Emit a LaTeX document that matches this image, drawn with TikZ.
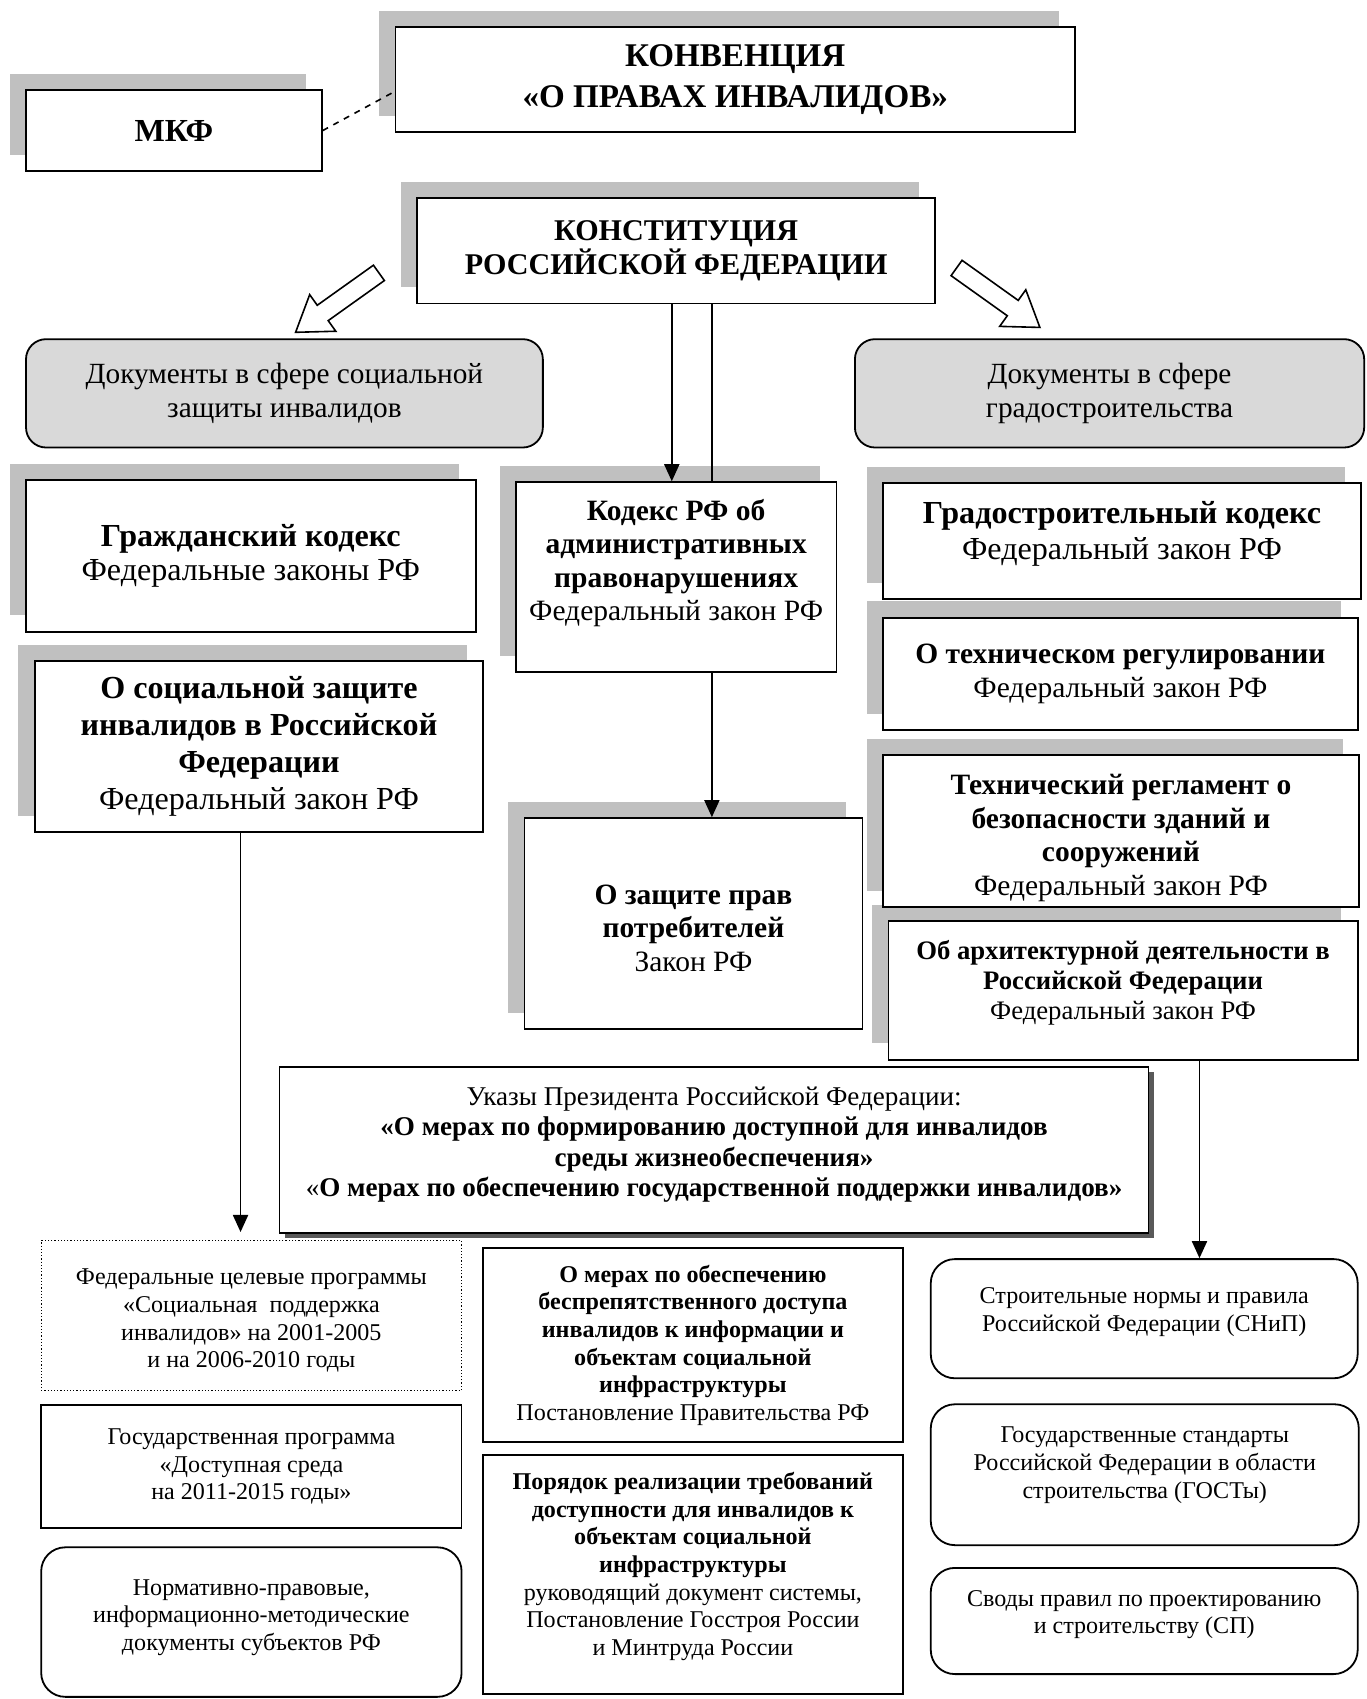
\documentclass[tikz,border=0pt]{standalone}
\usepackage{fontspec}
\setmainfont{Liberation Serif}
\usetikzlibrary{arrows.meta,shapes.arrows,shadows}

\definecolor{fieldgray}{RGB}{217,217,217}
\definecolor{shadowgray}{RGB}{192,192,192}

\tikzset{
  lawbox/.style={draw, line width=0.9pt, fill=white, align=center, inner sep=2pt},
  graysh/.style={drop shadow={shadow xshift=-8.1pt, shadow yshift=8.1pt, fill=shadowgray, opacity=1}},
  fieldbox/.style={lawbox, fill=fieldgray, rounded corners=10pt},
  roundbox/.style={lawbox, rounded corners=12pt},
  wh/.style 2 args={minimum width=#1*0.54pt, minimum height=#2*0.54pt},
  fa/.style={font=\fontsize{16}{17.3}\selectfont},
  fb/.style={font=\fontsize{14.7}{16.7}\selectfont},
  fc/.style={font=\fontsize{12}{13.8}\selectfont},
  hollow/.style={single arrow, draw, line width=0.8pt, fill=white, inner xsep=0pt, inner ysep=4.3pt,
    minimum height=51pt, single arrow head extend=6.5pt, single arrow tip angle=68},
  link/.style={draw, line width=0.9pt},
  arr/.style={link, ->, >={Triangle[length=8.5pt,width=7.5pt]}}
}

\begin{document}
\begin{tikzpicture}[x=0.54pt, y=-0.54pt]
        \useasboundingbox (0,0) rectangle (1261,1568);

        % top level
        \node[lawbox, graysh, wh={627}{97}, font=\fontsize{16.5}{20.5}\selectfont\bfseries] (konv) at (678.5,73.5) {КОНВЕНЦИЯ\\«О ПРАВАХ ИНВАЛИДОВ»};
        \node[lawbox, graysh, wh={273}{75}, font=\fontsize{16}{19}\selectfont\bfseries] (mkf) at (160.5,120.5) {МКФ};
        \node[lawbox, graysh, wh={478}{97}, font=\fontsize{15}{16.7}\selectfont\bfseries] (konst) at (624,231.5) {КОНСТИТУЦИЯ\\РОССИЙСКОЙ ФЕДЕРАЦИИ};

        \node[fieldbox, wh={477}{100}, font=\fontsize{14.6}{17.3}\selectfont] (socfield) at (262.5,363) {Документы в сфере социальной\\защиты инвалидов};
        \node[fieldbox, wh={470}{100}, font=\fontsize{14.6}{17.3}\selectfont] (gradfield) at (1024,363) {Документы в сфере\\градостроительства};

        \node[hollow, rotate=215.5] (toSoc) at (316.5,275.5) {};
        \node[hollow, rotate=-35.5] (toGrad) at (916,271) {};

        % laws
        \node[lawbox, graysh, wh={415}{140}, fa] (grazhd) at (231.5,513) {\textbf{Гражданский кодекс}\\Федеральные законы РФ};
        \node[lawbox, graysh, wh={414}{158}, font=\fontsize{16}{18.4}\selectfont] (soc) at (239,689) {\textbf{О социальной защите}\\\textbf{инвалидов в Российской}\\\textbf{Федерации}\\Федеральный закон РФ};
        \node[lawbox, graysh, wh={296}{175}, fb, text depth=17pt] (kodeks) at (624,532.5) {\textbf{Кодекс РФ об}\\\textbf{административных}\\\textbf{правонарушениях}\\Федеральный закон РФ};
        \node[lawbox, graysh, wh={312}{195}, fb, text height=47.5pt] (zashch) at (640,852.5) {\textbf{О защите прав}\\\textbf{потребителей}\\Закон РФ};
        \node[lawbox, graysh, wh={441}{107}, font=\fontsize{16}{18}\selectfont, text depth=10.5pt] (gradk) at (1035.5,499.5) {\textbf{Градостроительный кодекс}\\Федеральный закон РФ};
        \node[lawbox, graysh, wh={438}{104}, fb] (tehreg) at (1034,622) {\textbf{О техническом регулировании}\\Федеральный закон РФ};
        \node[lawbox, graysh, wh={433}{128}, font=\fontsize{13.3}{15}\selectfont, text depth=10.5pt] (archit) at (1036.5,914) {\textbf{Об архитектурной деятельности в}\\\textbf{Российской Федерации}\\Федеральный закон РФ};
        \node[lawbox, graysh, wh={439}{140}, fb, text height=67pt] (reglam) at (1034.5,767) {\textbf{Технический регламент о}\\\textbf{безопасности зданий и}\\\textbf{сооружений}\\Федеральный закон РФ};

        \node[lawbox, wh={802}{153}, font=\fontsize{13.5}{15.1}\selectfont, text depth=8.5pt,
          drop shadow={shadow xshift=2.5pt, shadow yshift=-2.5pt, fill=black!65, opacity=1}] (ukazy) at (659,1061.5)
          {Указы Президента Российской Федерации:\\\textbf{«О мерах по формированию доступной для инвалидов}\\\textbf{среды жизнеобеспечения»}\\«\textbf{О мерах по обеспечению государственной поддержки инвалидов»}};

        % programs and norms
        \node[lawbox, line width=0.6pt, densely dotted, wh={388}{138}, fc, text height=54.5pt] (fcp) at (232,1214) {Федеральные целевые программы\\«Социальная\ \ поддержка\\инвалидов» на 2001-2005\\и на 2006-2010 годы};
        \node[lawbox, wh={388}{113}, fc] (gosprog) at (232,1353.5) {Государственная программа\\«Доступная среда\\на 2011-2015 годы»};
        \node[roundbox, wh={388}{138}, fc, text depth=7pt] (subj) at (232,1497) {Нормативно-правовые,\\информационно-методические\\документы субъектов РФ};
        \node[lawbox, wh={387}{179}, fc] (mery) at (639.5,1241.5) {\textbf{О мерах по обеспечению}\\\textbf{беспрепятственного доступа}\\\textbf{инвалидов к информации и}\\\textbf{объектам социальной}\\\textbf{инфраструктуры}\\Постановление Правительства РФ};
        \node[lawbox, wh={387}{220}, fc, text depth=10.5pt] (poryad) at (639.5,1453) {\textbf{Порядок реализации требований}\\\textbf{доступности для инвалидов к}\\\textbf{объектам социальной}\\\textbf{инфраструктуры}\\руководящий документ системы,\\Постановление Госстроя России\\и Минтруда России};
        \node[roundbox, wh={394}{110}, fc, text depth=9pt] (snip) at (1056,1217) {Строительные нормы и правила\\Российской Федерации (СНиП)};
        \node[roundbox, wh={395}{130}, fc, text depth=12pt] (gost) at (1056.5,1361) {Государственные стандарты\\Российской Федерации в области\\строительства (ГОСТы)};
        \node[roundbox, wh={394}{98}, fc, text depth=9pt] (sp) at (1056,1496) {Своды правил по проектированию\\и строительству (СП)};

        % connectors
        \coordinate (lx) at (222,0);
        \coordinate (mx) at (620,0);
        \coordinate (vx) at (657,0);
        \coordinate (rx) at (1107,0);

        \path[draw,thick,dashed] (mkf.east) -- (konv.182);
        \path[arr] (konst.south -| mx) -- (kodeks.north -| mx);
        \path[link] (konst.south -| vx) -- (kodeks.north -| vx);
        \path[arr] (kodeks.south -| vx) -- (zashch.north -| vx);
        \path[arr, shorten >=4pt] (soc.south -| lx) -- (fcp.north -| lx);
        \path[arr] (archit.south -| rx) -- (snip.north -| rx);
    \end{tikzpicture}
\end{document}
